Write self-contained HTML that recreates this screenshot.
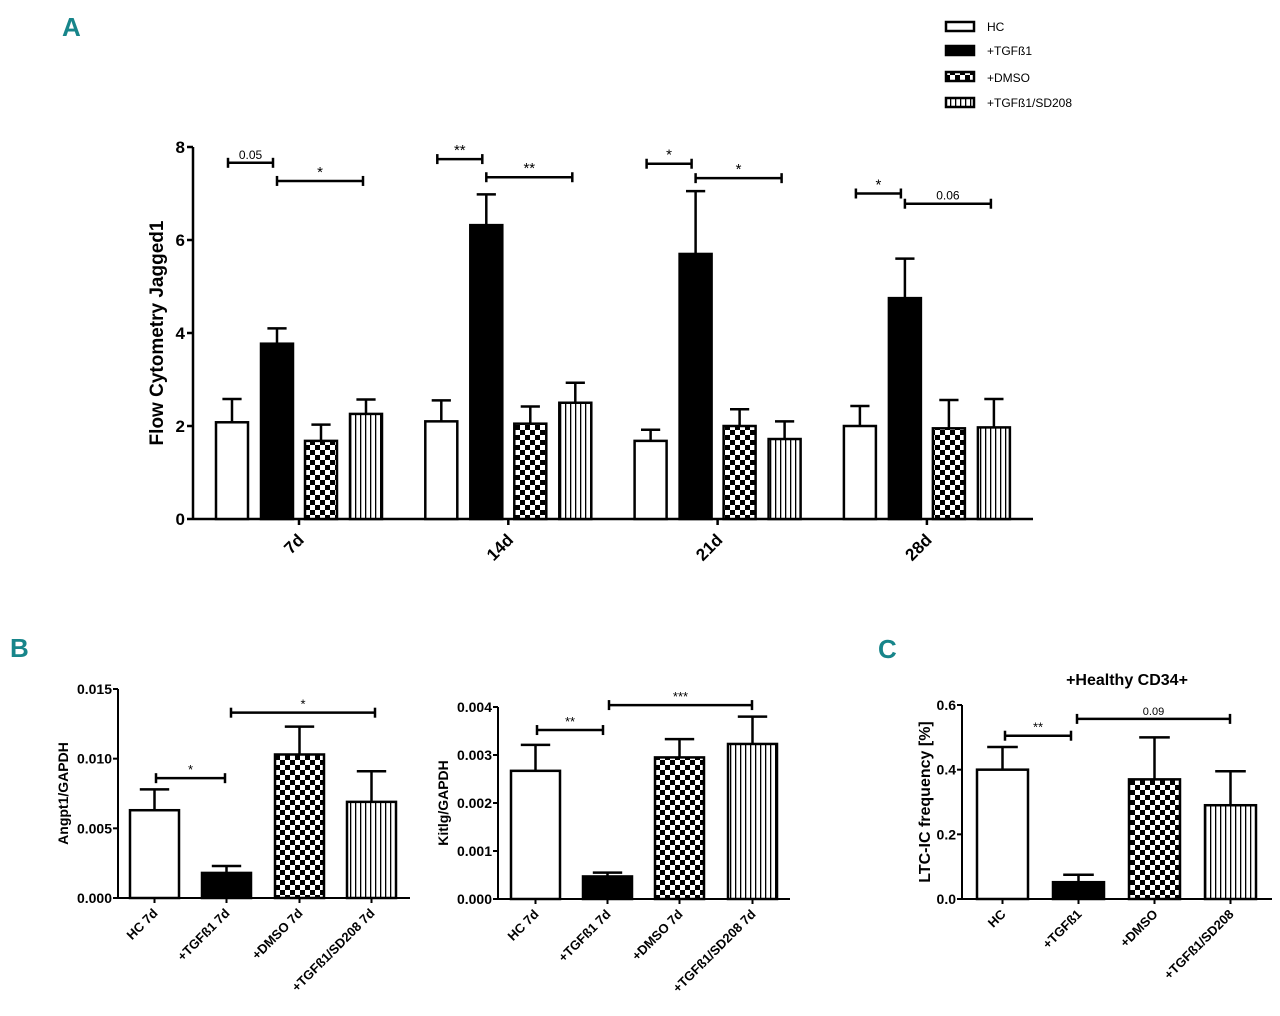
<!DOCTYPE html>
<html><head><meta charset="utf-8"><style>
html,body{margin:0;padding:0;background:#fff;}
svg{display:block;font-family:"Liberation Sans",Arial,sans-serif;}
</style></head><body>
<svg id="fig" width="1280" height="1016" viewBox="0 0 1280 1016" xmlns="http://www.w3.org/2000/svg">
<defs>
<pattern id="chk" width="10" height="10" patternUnits="userSpaceOnUse"><rect width="10" height="10" fill="#fff"/><rect width="5" height="5" fill="#000"/><rect x="5" y="5" width="5" height="5" fill="#000"/></pattern>
<pattern id="vln" width="5" height="8" patternUnits="userSpaceOnUse"><rect width="5" height="8" fill="#fff"/><rect x="0" width="1.3" height="8" fill="#000"/></pattern>
</defs>
<text x="62" y="36" font-size="26" font-weight="bold" fill="#17858a">A</text>
<text x="10" y="657" font-size="26" font-weight="bold" fill="#17858a">B</text>
<text x="878" y="658" font-size="26" font-weight="bold" fill="#17858a">C</text>
<g>
<g><rect x="946" y="22" width="28" height="9" fill="#fff" stroke="#000" stroke-width="2.5"/><text x="987" y="31" font-size="12">HC</text></g>
<g><rect x="946" y="46" width="28" height="9" fill="#000" stroke="#000" stroke-width="2.5"/><text x="987" y="55" font-size="12">+TGFß1</text></g>
<g><rect x="946" y="72" width="28" height="9" fill="url(#chk)" stroke="#000" stroke-width="2.5"/><text x="987" y="82" font-size="12">+DMSO</text></g>
<g><rect x="946" y="98" width="28" height="9" fill="url(#vln)" stroke="#000" stroke-width="2.5"/><text x="987" y="107" font-size="12">+TGFß1/SD208</text></g>
</g>
<g id="layer"></g>
</svg>
<script>
// Panel A data
const aGroups = ["7d","14d","21d","28d"];
const aHC    = [2.08, 2.10, 1.68, 2.00];
const aHCerr = [2.58, 2.55, 1.92, 2.43];
const aTGF    = [3.77, 6.32, 5.70, 4.75];
const aTGFerr = [4.10, 6.98, 7.05, 5.60];
const aDMSO    = [1.68, 2.05, 2.00, 1.95];
const aDMSOerr = [2.03, 2.42, 2.36, 2.56];
const aSD    = [2.26, 2.50, 1.72, 1.97];
const aSDerr = [2.57, 2.93, 2.10, 2.58];
const aTicks = [0,2,4,6,8];
const aSigLabels = ["0.05","*","**","**","*","*","*","0.06"];
const aSigLevels = [7.66,7.27,7.74,7.35,7.64,7.33,7.00,6.78];
// Panel B1
const b1Cats = ["HC 7d","+TGFß1 7d","+DMSO 7d","+TGFß1/SD208 7d"];
const b1Vals = [0.0063, 0.0018, 0.0103, 0.0069];
const b1Err  = [0.0078, 0.0023, 0.0123, 0.0091];
const b1Ticks = ["0.000","0.005","0.010","0.015"];
const b1SigLabels = ["*","*"];
const b1SigLevels = [0.0086, 0.0133];
// Panel B2
const b2Cats = ["HC 7d","+TGFß1 7d","+DMSO 7d","+TGFß1/SD208 7d"];
const b2Vals = [0.00267, 0.00047, 0.00295, 0.00323];
const b2Err  = [0.00321, 0.00055, 0.00333, 0.00380];
const b2Ticks = ["0.000","0.001","0.002","0.003","0.004"];
const b2SigLabels = ["**","***"];
const b2SigLevels = [0.00352, 0.00404];
// Panel C
const cCats = ["HC","+TGFß1","+DMSO","+TGFß1/SD208"];
const cVals = [0.40, 0.052, 0.37, 0.29];
const cErr  = [0.47, 0.075, 0.50, 0.395];
const cTicks = ["0.0","0.2","0.4","0.6"];
const cSigLabels = ["**","0.09"];
const cSigLevels = [0.505, 0.557];

const NS="http://www.w3.org/2000/svg";
const layer=document.getElementById('layer');
function el(tag,attrs,parent){const e=document.createElementNS(NS,tag);for(const k in attrs)e.setAttribute(k,attrs[k]);(parent||layer).appendChild(e);return e;}
const fills=["#fff","#000","url(#chk)","url(#vln)"];

function bar(g,x,w,yTop,y0,fill,errTop,name){
  const r=el('rect',{x:x,y:yTop,width:w,height:y0-yTop,fill:fill,stroke:'#000','stroke-width':2.5},g);
  
  
  const cx=x+w/2;
  el('line',{x1:cx,y1:yTop,x2:cx,y2:errTop,stroke:'#000','stroke-width':2.5},g);
  el('line',{x1:cx-w*0.3,y1:errTop,x2:cx+w*0.3,y2:errTop,stroke:'#000','stroke-width':2.5},g);
}
function bracket(g,x1,x2,y,label,fs){
  const b=el('g',{},g);
  
  
  el('line',{x1:x1,y1:y,x2:x2,y2:y,stroke:'#000','stroke-width':2.5},b);
  el('line',{x1:x1,y1:y-5,x2:x1,y2:y+5,stroke:'#000','stroke-width':2.5},b);
  el('line',{x1:x2,y1:y-5,x2:x2,y2:y+5,stroke:'#000','stroke-width':2.5},b);
  const t=el('text',{x:(x1+x2)/2,y:y-4,'text-anchor':'middle','font-size':fs},b);
  t.textContent=label;
}

// ---- Panel A ----
(function(){
  const g=el('g',{});
  
  
  const X0=193,XEND=1033,Y0=519,Y8=147;
  const y=v=>Y0-(Y0-Y8)*v/8;
  const gx=i=>299+i*209.3;
  const bw=32, off=[-67,-22,22,67];
  el('line',{x1:X0,y1:Y8,x2:X0,y2:Y0,stroke:'#000','stroke-width':2.5},g);
  el('line',{x1:X0,y1:Y0,x2:XEND,y2:Y0,stroke:'#000','stroke-width':2.5},g);
  aTicks.forEach(t=>{el('line',{x1:X0-6,y1:y(t),x2:X0,y2:y(t),stroke:'#000','stroke-width':2.5},g);
    const tx=el('text',{x:X0-8,y:y(t)+6,'text-anchor':'end','font-size':17,'font-weight':'bold'},g);tx.textContent=t;});
  const yl=el('text',{x:0,y:0,transform:`translate(163,${(Y0+Y8)/2}) rotate(-90)`,'text-anchor':'middle','font-size':19,'font-weight':'bold'},g);
  yl.textContent='Flow Cytometry Jagged1';
  
  const series=[[aHC,aHCerr],[aTGF,aTGFerr],[aDMSO,aDMSOerr],[aSD,aSDerr]];
  aGroups.forEach((grp,i)=>{
    series.forEach((s,j)=>{const cx=gx(i)+off[j];bar(g,cx-bw/2,bw,y(s[0][i]),Y0,fills[j],y(s[1][i]),'bar-'+grp+'-'+j);});
    el('line',{x1:gx(i),y1:Y0,x2:gx(i),y2:Y0+6,stroke:'#000','stroke-width':2.5},g);
    const t=el('text',{x:0,y:0,transform:`translate(${gx(i)+6},${Y0+22}) rotate(-45)`,'text-anchor':'end','font-size':17,'font-weight':'bold'},g);
    t.textContent=grp;
    
    bracket(g,gx(i)+off[0]-4,gx(i)+off[1]-4,y(aSigLevels[2*i]),aSigLabels[2*i],aSigLabels[2*i].startsWith('0')?12:15);
    bracket(g,gx(i)+off[1],gx(i)+off[3]-3,y(aSigLevels[2*i+1]),aSigLabels[2*i+1],aSigLabels[2*i+1].startsWith('0')?12:15);
  });
})();

function smallPanel(name,cats,vals,errs,ticks,max,X0,XEND,Y0,YT,barX,bw,ytitle,ytx,sigL,sigV,sigPairs,title){
  const g=el('g',{});
  
  
  const y=v=>Y0-(Y0-YT)*v/max;
  el('line',{x1:X0,y1:YT,x2:X0,y2:Y0,stroke:'#000','stroke-width':2},g);
  el('line',{x1:X0,y1:Y0,x2:XEND,y2:Y0,stroke:'#000','stroke-width':2},g);
  ticks.forEach(t=>{const v=parseFloat(t);el('line',{x1:X0-5,y1:y(v),x2:X0,y2:y(v),stroke:'#000','stroke-width':2},g);
    const tx=el('text',{x:X0-6,y:y(v)+5,'text-anchor':'end','font-size':14,'font-weight':'bold'},g);tx.textContent=t;});
  const yl=el('text',{x:0,y:0,transform:`translate(${ytx},${(Y0+YT)/2}) rotate(-90)`,'text-anchor':'middle','font-size':title?16:14,'font-weight':'bold'},g);
  yl.textContent=ytitle;
  
  cats.forEach((c,i)=>{
    const x=barX[i];
    bar(g,x,bw,y(vals[i]),Y0,fills[i],y(errs[i]),'bar-'+c);
    const cx=x+bw/2;
    el('line',{x1:cx,y1:Y0,x2:cx,y2:Y0+5,stroke:'#000','stroke-width':2},g);
    const t=el('text',{x:0,y:0,transform:`translate(${cx+4},${Y0+16}) rotate(-45)`,'text-anchor':'end','font-size':13,'font-weight':'bold'},g);
    t.textContent=c;
    
  });
  sigPairs.forEach((p,k)=>bracket(g,p[0],p[1],y(sigV[k]),sigL[k],sigL[k].startsWith('0')?11:13));
  if(title){const t=el('text',{x:1127,y:685,'text-anchor':'middle','font-size':16,'font-weight':'bold'},g);t.textContent=title;}
}
smallPanel('panel-b-angpt1-chart',b1Cats,b1Vals,b1Err,b1Ticks,0.015,118,410,898,689,[130,202,275,347],49,'Angpt1/GAPDH',68,b1SigLabels,b1SigLevels,[[156,225],[231,375]]);
smallPanel('panel-b-kitlg-chart',b2Cats,b2Vals,b2Err,b2Ticks,0.004,498,790,899,707,[511,583,655,728],49,'Kitlg/GAPDH',448,b2SigLabels,b2SigLevels,[[537,603],[609,752]]);
smallPanel('panel-c-ltcic-chart',cCats,cVals,cErr,cTicks,0.6,962,1272,899,705,[977,1053,1129,1205],51,'LTC-IC frequency [%]',930,cSigLabels,cSigLevels,[[1005,1071],[1077,1230]],'+Healthy CD34+');
</script>
</body></html>
